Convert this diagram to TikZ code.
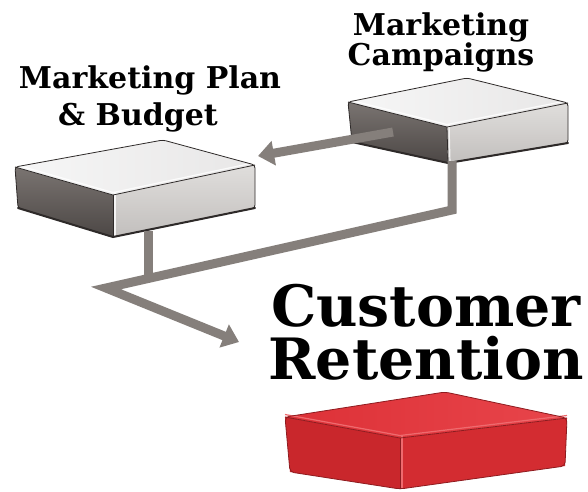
\documentclass[tikz,border=0pt]{standalone}
\usepackage{fontspec}
\newfontfamily\labfont{DejaVu Serif}
\usetikzlibrary{arrows.meta}
\definecolor{conngrey}{HTML}{857F7B}
\definecolor{edgegrey}{HTML}{2E2A29}
\definecolor{gtopA}{HTML}{F6F6F6}
\definecolor{gtopB}{HTML}{E8E7E7}
\definecolor{gleftA}{HTML}{7A7471}
\definecolor{gleftB}{HTML}{4C4745}
\definecolor{grightA}{HTML}{E0DEDC}
\definecolor{grightB}{HTML}{C2BFBD}
\definecolor{rtopA}{HTML}{E8454B}
\definecolor{rtopB}{HTML}{DD3137}
\definecolor{rleft}{HTML}{C9272C}
\definecolor{rright}{HTML}{D32C31}
\definecolor{redge}{HTML}{8E1B1F}
\definecolor{rbevel}{HTML}{EE6A6E}
\begin{document}
\begin{tikzpicture}[x=1pt,y=-1pt,
  conn/.style={draw=conngrey, line width=9pt, line join=miter},
  tipend/.style={-{Triangle[width=24pt,length=16pt]}},
  boxedge/.style={draw=edgegrey, line width=0.8pt, line join=round},
  redboxedge/.style={draw=redge, line width=0.8pt, line join=round},
  bevelg/.style={draw=white, line width=1.2pt, opacity=0.8, line join=round},
  bevelr/.style={draw=rbevel, line width=1.2pt, line join=round},
  smalllab/.style={align=center, inner sep=0pt, font=\labfont\bfseries\fontsize{30}{30}\selectfont},
  biglab/.style={align=center, inner sep=0pt, font=\labfont\bfseries\fontsize{57}{53}\selectfont}]
\useasboundingbox[fill=white] (0,0) rectangle (588,491);

% ---- Marketing Plan & Budget box
\coordinate (mpL) at (15,167);
\coordinate (mpB) at (163,140);
\coordinate (mpR) at (255,165);
\coordinate (mpF) at (113,195);
\coordinate (mpLb) at (18,208);
\coordinate (mpFb) at (113,237);
\coordinate (mpRb) at (255,208);
\shade[top color=gleftA, bottom color=gleftB] (mpL) -- (mpF) -- (mpFb) -- (mpLb) -- cycle;
\shade[top color=grightA, bottom color=grightB] (mpF) -- (mpR) -- (mpRb) -- (mpFb) -- cycle;
\shade[left color=gtopA, right color=gtopB] (mpL) -- (mpB) -- (mpR) -- (mpF) -- cycle;
\draw[bevelg] ([yshift=2.5pt]mpL) -- ([yshift=2.5pt]mpF) -- ([yshift=2.5pt]mpR);
\draw[bevelg] ([xshift=2pt,yshift=3pt]mpF) -- ([xshift=2pt]mpFb);
\draw[boxedge, rounded corners=3pt] (mpL) -- (mpB) -- (mpR) -- (mpRb) -- (mpFb) -- (mpLb) -- cycle;
\draw[boxedge] (mpL) -- (mpF) -- (mpR);
\draw[boxedge] (mpF) -- (mpFb);
\draw[edgegrey, line width=2pt, line cap=round] (mpLb) -- (mpFb) -- (mpRb);

% ---- Marketing Campaigns box
\coordinate (mcL) at (348,102);
\coordinate (mcB) at (467,78);
\coordinate (mcR) at (568,103);
\coordinate (mcF) at (447,127);
\coordinate (mcLb) at (352,142);
\coordinate (mcFb) at (448,163);
\coordinate (mcRb) at (568,143);
\shade[top color=gleftA, bottom color=gleftB] (mcL) -- (mcF) -- (mcFb) -- (mcLb) -- cycle;
\shade[top color=grightA, bottom color=grightB] (mcF) -- (mcR) -- (mcRb) -- (mcFb) -- cycle;
\shade[left color=gtopA, right color=gtopB] (mcL) -- (mcB) -- (mcR) -- (mcF) -- cycle;
\draw[bevelg] ([yshift=2.5pt]mcL) -- ([yshift=2.5pt]mcF) -- ([yshift=2.5pt]mcR);
\draw[bevelg] ([xshift=2pt,yshift=3pt]mcF) -- ([xshift=2pt]mcFb);
\draw[boxedge, rounded corners=3pt] (mcL) -- (mcB) -- (mcR) -- (mcRb) -- (mcFb) -- (mcLb) -- cycle;
\draw[boxedge] (mcL) -- (mcF) -- (mcR);
\draw[boxedge] (mcF) -- (mcFb);
\draw[edgegrey, line width=2pt, line cap=round] (mcLb) -- (mcFb) -- (mcRb);

% ---- Customer Retention box
\coordinate (crL) at (285,417);
\coordinate (crB) at (445,392);
\coordinate (crR) at (567,418);
\coordinate (crF) at (400,438);
\coordinate (crLb) at (290,472);
\coordinate (crFb) at (400,489);
\coordinate (crRb) at (565,466);
\fill[rleft] (crL) -- (crF) -- (crFb) -- (crLb) -- cycle;
\fill[rright] (crF) -- (crR) -- (crRb) -- (crFb) -- cycle;
\shade[left color=rtopB, right color=rtopA] (crL) -- (crB) -- (crR) -- (crF) -- cycle;
\draw[bevelr] ([yshift=2.5pt]crL) -- ([yshift=2.5pt]crF) -- ([yshift=2.5pt]crR);
\draw[bevelr] ([xshift=2pt,yshift=3pt]crF) -- ([xshift=2pt]crFb);
\draw[redboxedge, rounded corners=4pt] (crL) -- (crB) -- (crR) -- (crRb) -- (crFb) -- (crLb) -- cycle;
\draw[redboxedge] (crL) -- (crF) -- (crR);
\draw[redboxedge] (crF) -- (crFb);

% ---- connectors
\coordinate (mcOut) at (393,132);
\coordinate (mpIn) at (258,156);
\draw[conn, tipend] (mcOut) -- (mpIn);

\coordinate (mcBot) at (452,161);
\coordinate (bendA) at (452,210);
\coordinate (bendB) at (106,288);
\coordinate (crIn) at (239,342);
\draw[conn, tipend] (mcBot) -- (bendA) -- (bendB) -- (crIn);

\coordinate (mpBot) at (148,231);
\coordinate (joinP) at (148,279);
\draw[conn] (mpBot) -- (joinP);

% ---- labels
\node[smalllab, font=\labfont\bfseries\fontsize{30}{37}\selectfont] (mpLabel) at (150,98.5) {Marketing Plan\\\& Budget\hspace*{24pt}};
\node[smalllab] (mcLabel) at (441,42) {Marketing\\Campaigns};
\node[biglab] (crLabel) at (426,332.7) {Customer\\Retention};
\end{tikzpicture}
\end{document}
